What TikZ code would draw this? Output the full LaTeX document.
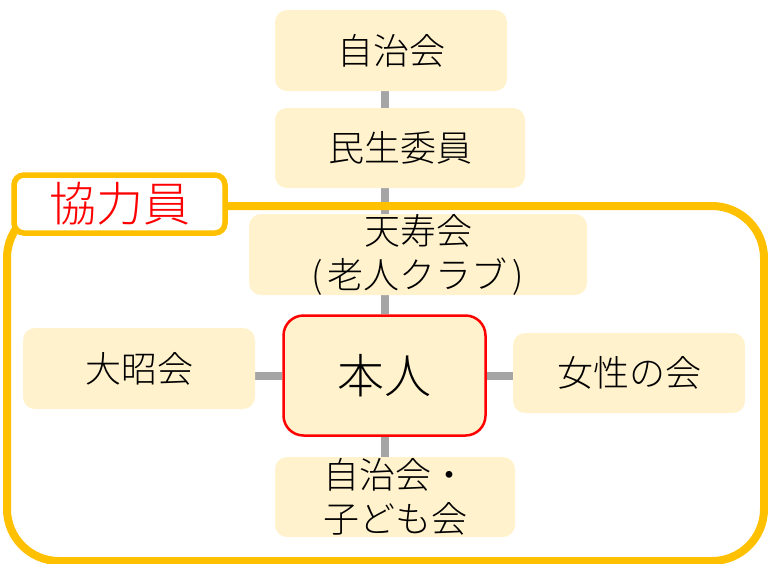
\documentclass[tikz,border=0pt]{standalone}
\usepackage{fontspec}
\setmainfont{Noto Sans CJK JP}[UprightFont=* Light]
\usetikzlibrary{backgrounds}
\definecolor{boxfill}{HTML}{FFF2CC}
\definecolor{linkgray}{HTML}{A5A5A5}
\definecolor{frameorange}{HTML}{FFC000}
\definecolor{selfred}{HTML}{FF0000}
\begin{document}
\begin{tikzpicture}[x=1pt,y=-1pt,
  card/.style={fill=boxfill, rounded corners=12pt, inner sep=0pt, align=center,
    font=\fontsize{36}{44}\selectfont, text=black},
  selfbox/.style={card, draw=selfred, line width=2.5pt, rounded corners=20pt,
    font=\fontsize{47}{56}\selectfont},
  link/.style={draw=linkgray, line width=8pt},
  groupframe/.style={draw=frameorange, line width=8pt, rounded corners=52pt, inner sep=0pt},
  grouplabel/.style={draw=frameorange, fill=white, line width=5.5pt, rounded corners=10pt,
    inner sep=0pt, text=selfred, font=\fontsize{47}{56}\selectfont}]
\useasboundingbox (0,0) rectangle (768,563);

\node[card, minimum width=232pt, minimum height=81pt] (jichi) at (391,50.5) {自治会};
\node[card, minimum width=250pt, minimum height=80pt] (minsei) at (400,148) {民生委員};
\node[card, minimum width=338pt, minimum height=81pt] (tenju) at (418,254.5) {天寿会\\(\kern5pt 老人クラブ\kern5pt)};
\node[selfbox, minimum width=202pt, minimum height=120pt] (honnin) at (384.5,375.5) {本人};
\node[card, minimum width=232pt, minimum height=81pt] (taisho) at (139,368.5) {大昭会};
\node[card, minimum width=232pt, minimum height=80pt] (josei) at (629,373) {女性の会};
\node[card, minimum width=240pt, minimum height=80pt] (kodomo) at (395,497) {自治会・\\子ども会};

\begin{pgfonlayer}{background}
  \draw[link] (jichi.south -| honnin) -- (minsei.north -| honnin);
  \draw[link] (minsei.south -| honnin) -- (tenju.north -| honnin);
  \draw[link] (tenju.south -| honnin) -- (honnin.north);
  \draw[link] (honnin.south) -- (kodomo.north -| honnin);
  \draw[link] (taisho.east |- honnin) -- (honnin.west);
  \draw[link] (honnin.east) -- (josei.west |- honnin);
  \node[groupframe, minimum width=757pt, minimum height=355pt] (grp) at (385.5,383.5) {};
\end{pgfonlayer}

\node[grouplabel, minimum width=211pt, minimum height=58pt] (lbl) at (119.5,204) {協力員};
\end{tikzpicture}
\end{document}
